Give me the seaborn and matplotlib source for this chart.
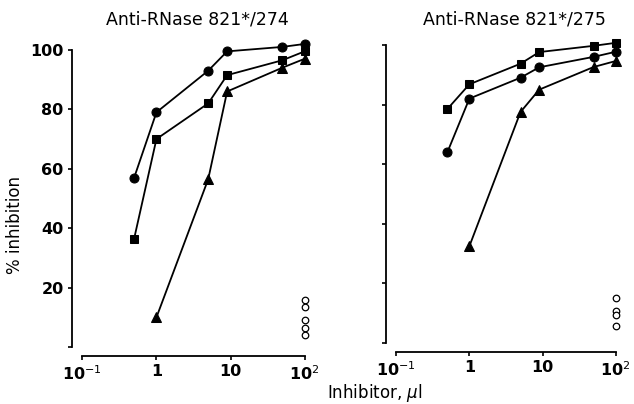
import numpy as np
import pandas as pd
import seaborn as sns
import matplotlib.pyplot as plt

# inhibitor volume (ul)
dose = [0.5, 1, 5, 9, 50, 100]
dose_tri = [1, 5, 9, 50, 100]

# Anti-RNase 821*/274
left_circle = [57, 79, 93, 99.5, 101, 102]
left_square = [36.5, 70, 82, 91.5, 96.5, 99.5]
left_triangle = [10, 56.5, 86, 94, 97]
left_open = [16, 13.5, 9, 6.5, 4]

# Anti-RNase 821*/275
right_circle = [64, 82, 89, 92.5, 96, 97.7]
right_square = [78.5, 86.8, 93.7, 97.6, 99.7, 100.7]
right_triangle = [32.5, 77.5, 85, 92.6, 94.6]
right_open = [15, 10.8, 9.4, 5.8]

titles = ["Anti-RNase 821*/274", "Anti-RNase 821*/275"]
xtick_vals = [0.1, 1, 10, 100]
xtick_labels = ["10$^{-1}$", "1", "10", "10$^{2}$"]
ytick_vals = [20, 40, 60, 80, 100]


def draw_panel(ax, circ, sq, tri, opn):
    sns.lineplot(x=dose, y=circ, marker="o", color="black", ax=ax,
                 markersize=6.5, lw=1.3, mec="black")
    sns.lineplot(x=dose, y=sq, marker="s", color="black", ax=ax,
                 markersize=5.5, lw=1.3, mec="black")
    sns.lineplot(x=dose_tri, y=tri, marker="^", color="black", ax=ax,
                 markersize=6.5, lw=1.3, mec="black")
    sns.scatterplot(x=[100] * len(opn), y=opn, marker="o", s=22,
                    facecolor="white", edgecolor="black", linewidth=0.9, ax=ax)

    ax.set_xscale("log")
    ax.set_xlim(10 ** -1.14, 10 ** 2.1)
    ax.set_ylim(-3, 104)
    ax.set_xticks(xtick_vals)
    ax.set_xticklabels(xtick_labels)
    ax.minorticks_off()
    ax.spines["left"].set_bounds(0, 100)
    ax.spines["bottom"].set_bounds(0.1, 100)
    ax.spines["left"].set_linewidth(1.3)
    ax.spines["bottom"].set_linewidth(1.3)
    ax.tick_params(length=3, width=1.2, labelsize=11.5, pad=3, colors="black")
    for lab in ax.get_xticklabels() + ax.get_yticklabels():
        lab.set_fontweight("bold")


def main():
    sns.set_style("ticks")
    plt.rcParams["font.family"] = ["DejaVu Sans"]
    plt.rcParams["text.color"] = "black"
    plt.rcParams["axes.edgecolor"] = "black"

    fig = plt.figure(figsize=(6.34, 4.04), dpi=100)
    ax1 = fig.add_axes([72 / 634, 48 / 404, 240 / 634, 318 / 404])
    ax2 = fig.add_axes([386 / 634, 52 / 404, 237 / 634, 319 / 404])

    draw_panel(ax1, left_circle, left_square, left_triangle, left_open)
    draw_panel(ax2, right_circle, right_square, right_triangle, right_open)

    ax1.set_yticks(ytick_vals + [0])
    ax1.set_yticklabels([str(v) for v in ytick_vals] + [""])
    for lab in ax1.get_yticklabels():
        lab.set_fontweight("bold")
    ax2.set_yticks([0] + ytick_vals)
    ax2.set_yticklabels([])
    sns.despine(fig=fig)

    fig.text(197 / 634, 1 - 20 / 404, titles[0], ha="center", va="center", fontsize=12.5)
    fig.text(514 / 634, 1 - 20 / 404, titles[1], ha="center", va="center", fontsize=12.5)
    fig.text(375 / 634, 1 - 393 / 404, "Inhibitor, $\\mu$l", ha="center", va="center",
             fontsize=12)
    fig.text(15 / 634, 1 - 225 / 404, "% inhibition", ha="center", va="center",
             rotation=90, fontsize=12)

    fig.savefig("out.png", dpi=100)
    plt.close(fig)


if __name__ == "__main__":
    main()
